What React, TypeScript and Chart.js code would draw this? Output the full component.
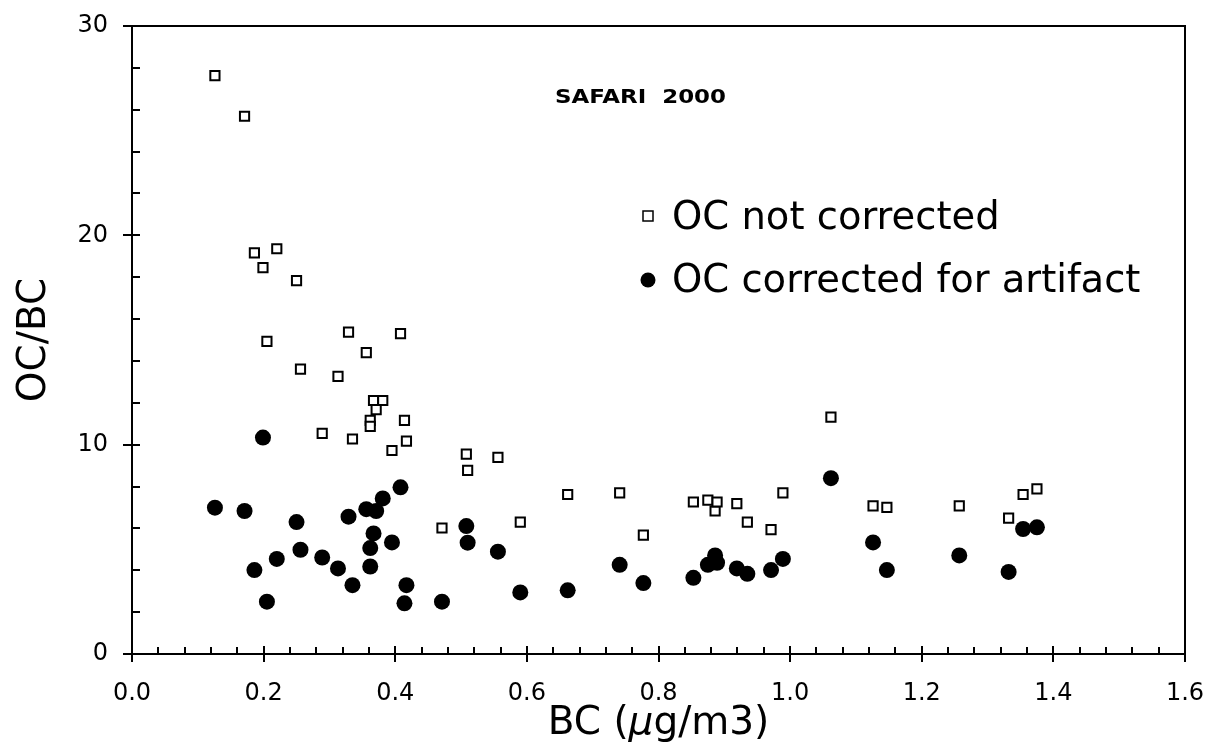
import React, { useEffect, useRef } from 'react';
import { Chart, registerables } from 'chart.js';

Chart.register(...registerables);

// BC concentration (µg/m3) for each sample
const BC = [
  0.126, 0.171, 0.186, 0.199, 0.205, 0.220, 0.250, 0.256, 0.289, 0.313,
  0.329, 0.335, 0.356, 0.362, 0.362, 0.367, 0.371, 0.381, 0.395, 0.408,
  0.414, 0.417, 0.471, 0.508, 0.510, 0.556, 0.590, 0.662, 0.741, 0.777,
  0.853, 0.875, 0.886, 0.889, 0.919, 0.935, 0.971, 0.989, 1.062, 1.126,
  1.147, 1.257, 1.332, 1.354, 1.375,
];

// OC/BC, OC not corrected
const OC_NOT_CORRECTED = [
  27.63, 25.69, 19.16, 18.46, 14.93, 19.36, 17.84, 13.61, 10.54, 13.26,
  15.38, 10.27, 14.40, 11.16, 10.87, 12.11, 11.67, 12.11, 9.72, 15.30,
  11.16, 10.17, 6.02, 9.55, 8.77, 9.39, 6.30, 7.62, 7.70, 5.68,
  7.26, 7.35, 6.83, 7.26, 7.18, 6.30, 5.94, 7.70, 11.32, 7.08,
  7.00, 7.08, 6.49, 7.62, 7.89,
];

// OC/BC, OC corrected for artifact
const OC_CORRECTED = [
  6.99, 6.83, 4.01, 10.34, 2.50, 4.54, 6.30, 4.98, 4.61, 4.09,
  6.56, 3.29, 6.92, 5.06, 4.18, 5.76, 6.83, 7.43, 5.33, 7.96,
  2.42, 3.29, 2.50, 6.11, 5.32, 4.89, 2.94, 3.04, 4.26, 3.39,
  3.64, 4.26, 4.71, 4.36, 4.09, 3.83, 4.01, 4.54, 8.40, 5.33,
  4.01, 4.71, 3.92, 5.97, 6.05,
];

const X_TICKS = [0, 0.2, 0.4, 0.6, 0.8, 1.0, 1.2, 1.4, 1.6];
const Y_TICKS = [0, 10, 20, 30];
const X_MINOR_STEP = 0.04;
const Y_MINOR_STEP = 2;

const SERIES_LABELS = ['OC not corrected', 'OC corrected for artifact'];
const ANNOTATION = 'SAFARI  2000';
const Y_TITLE = 'OC/BC';
const X_TITLE_PARTS = [
  { text: 'BC (', italic: false },
  { text: 'μ', italic: true },
  { text: 'g/m3)', italic: false },
];

const FONT = '"DejaVu Sans", Verdana, sans-serif';

const decorPlugin = {
  id: 'decor',
  afterDraw(chart: any) {
    const { ctx, chartArea: a, scales } = chart;
    const xs = scales.x;
    const ys = scales.y;
    ctx.save();
    ctx.strokeStyle = '#000';
    ctx.fillStyle = '#000';
    ctx.lineWidth = 2;
    ctx.strokeRect(a.left, a.top, a.right - a.left, a.bottom - a.top);

    // x ticks (major cross the axis, minor point inward)
    const xCount = Math.round((xs.max - xs.min) / X_MINOR_STEP);
    for (let i = 0; i <= xCount; i++) {
      const v = xs.min + i * X_MINOR_STEP;
      const px = Math.round(xs.getPixelForValue(v));
      const major = i % 5 === 0;
      ctx.beginPath();
      ctx.moveTo(px, a.bottom - (major ? 8 : 7));
      ctx.lineTo(px, a.bottom + (major ? 8 : 0));
      ctx.stroke();
    }
    // y ticks
    const yCount = Math.round((ys.max - ys.min) / Y_MINOR_STEP);
    for (let i = 0; i <= yCount; i++) {
      const v = ys.min + i * Y_MINOR_STEP;
      const py = Math.round(ys.getPixelForValue(v));
      const major = i % 5 === 0;
      ctx.beginPath();
      ctx.moveTo(a.left - (major ? 9 : 0), py);
      ctx.lineTo(a.left + 8, py);
      ctx.stroke();
    }

    // Y title
    ctx.save();
    ctx.translate(35, (a.top + a.bottom) / 2);
    ctx.rotate(-Math.PI / 2);
    ctx.font = `39px ${FONT}`;
    ctx.textAlign = 'center';
    ctx.textBaseline = 'middle';
    ctx.fillText(Y_TITLE, 0, 0);
    ctx.restore();

    // X title with italic mu
    ctx.textAlign = 'left';
    ctx.textBaseline = 'alphabetic';
    const fontFor = (it: boolean) => `${it ? 'italic ' : ''}39px ${FONT}`;
    let total = 0;
    for (const p of X_TITLE_PARTS) {
      ctx.font = fontFor(p.italic);
      total += ctx.measureText(p.text).width;
    }
    let cx = (a.left + a.right) / 2 - total / 2;
    for (const p of X_TITLE_PARTS) {
      ctx.font = fontFor(p.italic);
      ctx.fillText(p.text, cx, 734);
      cx += ctx.measureText(p.text).width;
    }

    // annotation
    ctx.save();
    ctx.font = `bold 20px ${FONT}`;
    const w = ctx.measureText(ANNOTATION).width;
    ctx.translate(555, 103);
    ctx.scale(171 / w, 1);
    ctx.fillText(ANNOTATION, 0, 0);
    ctx.restore();

    // legend
    ctx.font = `38.5px ${FONT}`;
    ctx.fillText(SERIES_LABELS[0], 672, 229);
    ctx.fillText(SERIES_LABELS[1], 672, 292);
    ctx.lineWidth = 1.5;
    ctx.fillStyle = '#fff';
    ctx.fillRect(643, 211, 10, 10);
    ctx.strokeRect(643, 211, 10, 10);
    ctx.fillStyle = '#000';
    ctx.beginPath();
    ctx.arc(648, 280, 7.5, 0, Math.PI * 2);
    ctx.fill();

    ctx.restore();
  },
};

export default function App() {
  const ref = useRef<HTMLCanvasElement | null>(null);
  useEffect(() => {
    if (!ref.current) return;
    const chart = new Chart(ref.current, {
      type: 'scatter',
      data: {
        datasets: [
          {
            label: SERIES_LABELS[0],
            data: BC.map((x, i) => ({ x, y: OC_NOT_CORRECTED[i] })),
            pointStyle: 'rect',
            pointRadius: 6.5,
            borderWidth: 2,
            borderColor: '#000',
            backgroundColor: '#fff',
          },
          {
            label: SERIES_LABELS[1],
            data: BC.map((x, i) => ({ x, y: OC_CORRECTED[i] })),
            pointStyle: 'circle',
            pointRadius: 8,
            borderWidth: 0,
            borderColor: '#000',
            backgroundColor: '#000',
          },
        ],
      },
      options: {
        animation: false,
        responsive: false,
        devicePixelRatio: 1,
        layout: { padding: { top: 26, right: 22, left: 0, bottom: 0 } },
        plugins: {
          legend: { display: false },
          tooltip: { enabled: false },
        },
        scales: {
          x: {
            type: 'linear',
            min: 0,
            max: 1.6,
            afterBuildTicks: (s: any) => {
              s.ticks = X_TICKS.map((v) => ({ value: v }));
            },
            afterFit: (s: any) => {
              s.height = 94;
              s.paddingLeft = 0;
              s.paddingRight = 0;
            },
            ticks: {
              callback: (v: any) => Number(v).toFixed(1),
              font: { family: FONT, size: 24 },
              color: '#000',
              padding: 17,
              maxRotation: 0,
              autoSkip: false,
            },
            grid: { display: false },
            border: { display: false },
          },
          y: {
            type: 'linear',
            min: 0,
            max: 30,
            afterBuildTicks: (s: any) => {
              s.ticks = Y_TICKS.map((v) => ({ value: v }));
            },
            afterFit: (s: any) => {
              s.width = 132;
              s.paddingTop = 0;
              s.paddingBottom = 0;
            },
            ticks: {
              font: { family: FONT, size: 24 },
              color: '#000',
              padding: 16,
            },
            grid: { display: false },
            border: { display: false },
          },
        },
      },
      plugins: [decorPlugin],
    });
    return () => chart.destroy();
  }, []);

  return (
    <div style={{ position: 'fixed', left: 0, top: 0, width: 1207, height: 748, background: '#fff' }}>
      <canvas ref={ref} width={1207} height={748} style={{ width: 1207, height: 748 }} />
    </div>
  );
}
